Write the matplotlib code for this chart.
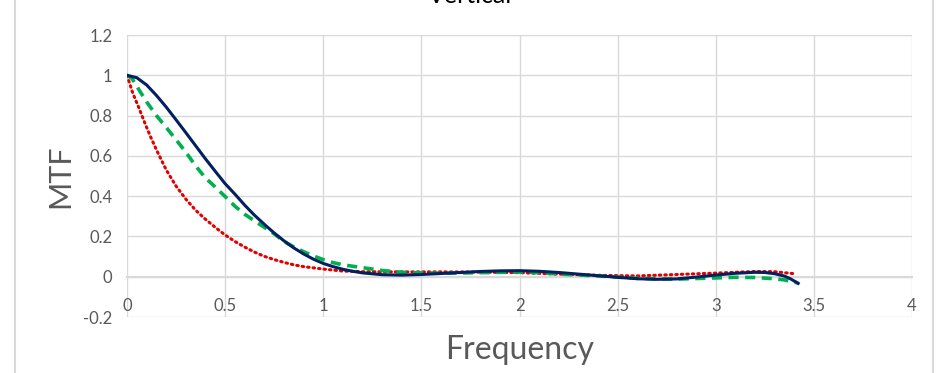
import matplotlib.pyplot as plt
from matplotlib.lines import Line2D
import numpy as np

# values
freq_blue = [0.0, 0.05, 0.1, 0.15, 0.2, 0.25, 0.3, 0.35, 0.4, 0.45, 0.5, 0.55, 0.6, 0.65, 0.7, 0.75,
             0.8, 0.85, 0.9, 0.95, 1.0, 1.05, 1.1, 1.15, 1.2, 1.3, 1.4, 1.5, 1.6, 1.7, 1.8, 1.9,
             2.0, 2.1, 2.2, 2.3, 2.4, 2.5, 2.6, 2.7, 2.8, 2.9, 3.0, 3.1, 3.2, 3.25, 3.3, 3.35,
             3.38, 3.42]
mtf_blue = [1.0, 0.988, 0.952, 0.9, 0.842, 0.779, 0.715, 0.65, 0.585, 0.523, 0.462, 0.41, 0.355,
            0.305, 0.26, 0.217, 0.178, 0.143, 0.113, 0.087, 0.066, 0.05, 0.037, 0.027, 0.019, 0.01,
            0.008, 0.011, 0.016, 0.021, 0.026, 0.029, 0.03, 0.027, 0.021, 0.013, 0.005, -0.003,
            -0.01, -0.013, -0.011, -0.002, 0.008, 0.017, 0.022, 0.021, 0.015, 0.003, -0.01, -0.033]

freq_green = [0.0, 0.025, 0.05, 0.1, 0.15, 0.2, 0.25, 0.3, 0.35, 0.4, 0.45, 0.5, 0.55, 0.6, 0.65,
              0.7, 0.75, 0.8, 0.85, 0.9, 0.95, 1.0, 1.05, 1.1, 1.2, 1.3, 1.4, 1.5, 1.6, 1.8, 2.0,
              2.1, 2.2, 2.4, 2.5, 2.6, 2.7, 2.8, 2.9, 3.0, 3.1, 3.2, 3.3, 3.35, 3.42]
mtf_green = [1.0, 0.985, 0.945, 0.868, 0.80, 0.741, 0.68, 0.618, 0.55, 0.49, 0.445, 0.398, 0.35,
             0.31, 0.277, 0.245, 0.213, 0.175, 0.148, 0.124, 0.103, 0.085, 0.07, 0.059, 0.045,
             0.031, 0.022, 0.019, 0.017, 0.02, 0.023, 0.02, 0.013, 0.004, -0.002, -0.008, -0.011,
             -0.012, -0.009, -0.006, -0.003, -0.004, -0.01, -0.016, -0.031]

freq_red = [0.0, 0.03, 0.06, 0.09, 0.12, 0.15, 0.2, 0.25, 0.3, 0.35, 0.4, 0.45, 0.5, 0.55, 0.6,
            0.65, 0.7, 0.75, 0.8, 0.85, 0.9, 1.0, 1.1, 1.2, 1.4, 1.6, 1.8, 2.0, 2.2, 2.4, 2.6,
            2.8, 3.0, 3.2, 3.3, 3.4]
mtf_red = [1.0, 0.91, 0.84, 0.765, 0.695, 0.63, 0.53, 0.45, 0.385, 0.33, 0.285, 0.245, 0.207,
           0.175, 0.147, 0.122, 0.101, 0.085, 0.071, 0.059, 0.05, 0.038, 0.028, 0.025, 0.024,
           0.024, 0.023, 0.02, 0.013, 0.007, 0.004, 0.011, 0.018, 0.026, 0.025, 0.015]

plt.rcParams['font.family'] = ['Lato', 'DejaVu Sans']

fig = plt.figure(figsize=(9.38, 3.73), dpi=100)
ax = fig.add_axes([127/938, 1 - 317/373, (912 - 127)/938, (317 - 35)/373])

ax.plot(freq_red, mtf_red, color='#E00000', lw=2.2, linestyle=(0, (0.5, 1.3)),
        dash_capstyle='round', solid_joinstyle='round', zorder=3)
ax.plot(freq_green, mtf_green, color='#00B050', lw=2.6, linestyle=(0, (2.8, 1.8)), zorder=4)
ax.plot(freq_blue, mtf_blue, color='#002060', lw=2.2, solid_joinstyle='round', zorder=5)

ax.set_xlim(0, 4)
ax.set_ylim(-0.2, 1.2)
ax.set_xticks(np.arange(0, 4.01, 0.5))
ax.set_xticklabels(['0', '0.5', '1', '1.5', '2', '2.5', '3', '3.5', '4'])
ax.set_yticks(np.arange(-0.2, 1.21, 0.2))
ax.set_yticklabels(['-0.2', '0', '0.2', '0.4', '0.6', '0.8', '1', '1.2'])
ax.grid(True, color='#D9D9D9', lw=1)
ax.set_axisbelow(True)
for s in ['top', 'right', 'left']:
    ax.spines[s].set_visible(False)
ax.spines['bottom'].set_position(('data', 0))
ax.spines['bottom'].set_color('#D9D9D9')
ax.spines['bottom'].set_linewidth(1.5)
ax.tick_params(length=0, labelsize=12, labelcolor='#595959')
ax.tick_params(axis='y', pad=10.5)
ax.tick_params(axis='x', pad=15)

fig.text(60/938, 1 - 176/373, 'MTF', rotation=90, fontsize=22, color='#595959',
         ha='center', va='center')
fig.text(520/938, 1 - 350/373, 'Frequency', fontsize=23, color='#595959',
         ha='center', va='center')
fig.text(470/938, 1 - 3/373, 'Vertical', fontsize=18, color='#000000',
         ha='center', va='baseline')

# chart border
fig.add_artist(Line2D([15/938, 15/938], [0, 1], color='#D9D9D9', lw=1.5))
fig.add_artist(Line2D([933/938, 933/938], [0, 1], color='#D9D9D9', lw=1.5))

fig.savefig('out.png', dpi=100)
